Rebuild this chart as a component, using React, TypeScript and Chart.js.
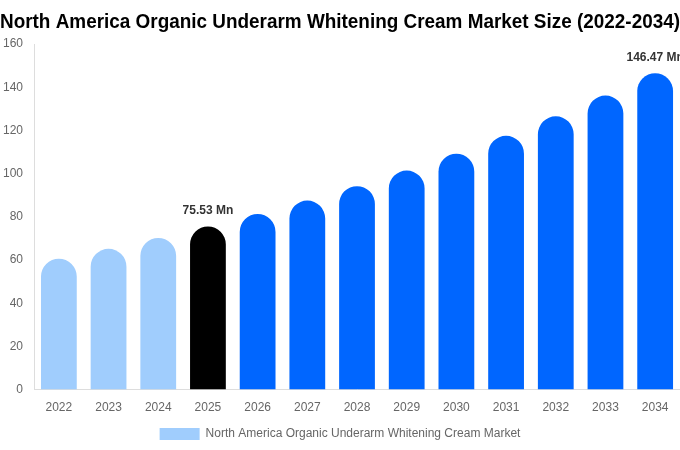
import React, { useEffect, useRef } from "react";
import { Chart, registerables } from "chart.js";

Chart.register(...registerables);

const years = ["2022", "2023", "2024", "2025", "2026", "2027", "2028", "2029", "2030", "2031", "2032", "2033", "2034"];
const marketSize = [60.6, 65.2, 70.2, 75.53, 81.3, 87.5, 94.2, 101.4, 109.2, 117.5, 126.5, 136.1, 146.47];
const barColors = ["#a0cdfd", "#a0cdfd", "#a0cdfd", "#000000", "#0066ff", "#0066ff", "#0066ff", "#0066ff", "#0066ff", "#0066ff", "#0066ff", "#0066ff", "#0066ff"];
const labelledIndexes = [3, 12];
const seriesName = "North America Organic Underarm Whitening Cream Market";
const titleText = "North America Organic Underarm Whitening Cream Market Size (2022-2034)";

const FONT = "'Liberation Sans', Arial, sans-serif";

const valueLabels = {
  id: "valueLabels",
  afterDatasetsDraw(chart: any) {
    const ctx = chart.ctx;
    const meta = chart.getDatasetMeta(0);
    ctx.save();
    ctx.font = `bold 12px ${FONT}`;
    ctx.fillStyle = "#333333";
    ctx.textAlign = "center";
    ctx.textBaseline = "bottom";
    labelledIndexes.forEach((i) => {
      const el = meta.data[i];
      ctx.fillText(`${marketSize[i].toFixed(2)} Mn`, el.x, el.y - 10);
    });
    ctx.restore();
  },
};

export default function App() {
  const ref = useRef<HTMLCanvasElement>(null);
  useEffect(() => {
    document.body.style.margin = "0";
    const chart = new Chart(ref.current!, {
      type: "bar",
      data: {
        labels: years,
        datasets: [
          {
            label: seriesName,
            data: marketSize,
            backgroundColor: barColors,
            borderRadius: { topLeft: 20, topRight: 20, bottomLeft: 0, bottomRight: 0 },
            borderSkipped: false,
            barPercentage: 0.9,
            categoryPercentage: 0.8,
          },
        ],
      },
      options: {
        animation: false,
        responsive: false,
        layout: { padding: { left: 0, right: 0, top: 0, bottom: 0 } },
        plugins: {
          title: {
            display: true,
            text: titleText,
            color: "#000000",
            font: { family: FONT, size: 20, weight: "bold" },
            padding: { top: 10, bottom: 10 },
          },
          legend: {
            position: "bottom",
            labels: {
              boxWidth: 40,
              boxHeight: 12,
              color: "#666666",
              font: { family: FONT, size: 12 },
            },
          },
          tooltip: { enabled: false },
        },
        scales: {
          x: {
            grid: { display: false },
            border: { display: true, color: "#dddddd" },
            ticks: { color: "#666666", font: { family: FONT, size: 12 } },
          },
          y: {
            min: 0,
            max: 160,
            grid: { display: false },
            border: { display: true, color: "#dddddd" },
            ticks: { stepSize: 20, color: "#666666", font: { family: FONT, size: 12 } },
          },
        },
      },
      plugins: [valueLabels],
    });
    return () => chart.destroy();
  }, []);
  return (
    <div style={{ width: 680, height: 450 }}>
      <canvas ref={ref} width={680} height={450} />
    </div>
  );
}
